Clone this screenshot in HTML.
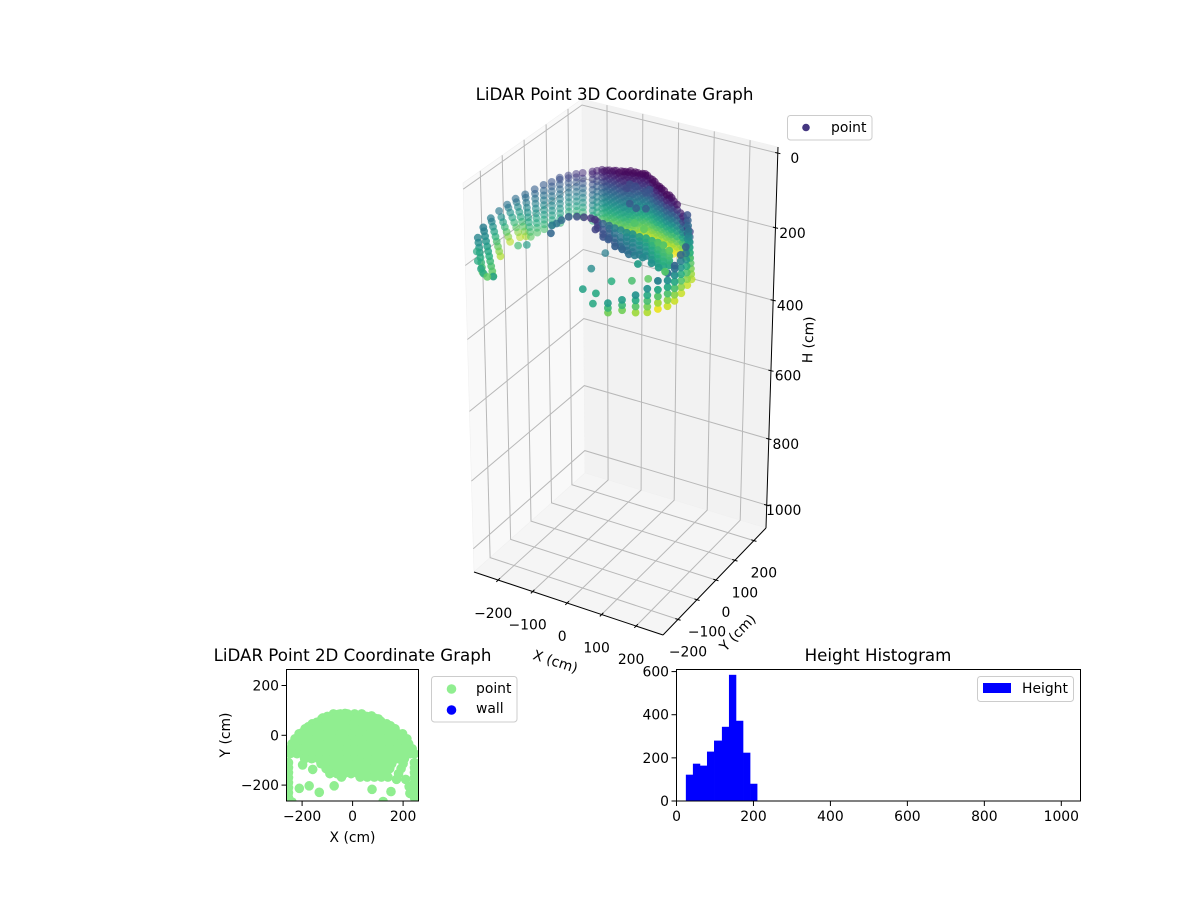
<!DOCTYPE html>
<html>
<head>
<meta charset="utf-8">
<title>LiDAR Point Graphs</title>
<style>
html,body{margin:0;padding:0;background:#fff;}
svg{display:block;}
text{font-family:"DejaVu Sans","Liberation Sans",sans-serif;font-size:13.9px;fill:#000;}
.title{font-size:16.67px;text-anchor:middle;}
.mid{text-anchor:middle;}
.end{text-anchor:end;}
</style>
</head>
<body>
<svg id="fig" xmlns="http://www.w3.org/2000/svg" width="1200" height="900" viewBox="0 0 1200 900">
  <defs>
    <clipPath id="clip2d"><rect x="286.5" y="669.5" width="132" height="131.5"/></clipPath>
  </defs>
  <rect x="0" y="0" width="1200" height="900" fill="#fff"/>
  <g id="g3d"></g>
  <g id="g2d"></g>
  <g id="ghist"></g>
  <text class="title" x="614.5" y="100">LiDAR Point 3D Coordinate Graph</text>
  <text class="title" x="352.5" y="661">LiDAR Point 2D Coordinate Graph</text>
  <text class="title" x="878" y="661">Height Histogram</text>

  <g>
    <rect x="787.5" y="115.5" width="84.5" height="24.5" rx="3" fill="#fff" stroke="#ccc"/>
    <circle cx="806" cy="127.5" r="3.8" fill="#453781"/>
    <text x="831" y="131.8">point</text>
  </g>
  <g>
    <rect x="431.5" y="676.5" width="85.5" height="45.5" rx="3" fill="#fff" stroke="#ccc"/>
    <circle cx="451.5" cy="689" r="4.8" fill="#90ee90"/>
    <text x="476" y="693">point</text>
    <circle cx="451.5" cy="710" r="4.8" fill="#0000ff"/>
    <text x="476" y="713">wall</text>
  </g>
  <g>
    <rect x="977.5" y="676.5" width="96" height="25" rx="3" fill="#fff" stroke="#ccc"/>
    <rect x="983" y="683" width="28" height="10" fill="#0000ff"/>
    <text x="1022" y="693">Height</text>
  </g>
</svg>
<script>
/* ---------- 3D scatter data: each column is one LiDAR sweep at a fixed plan position ---------- */
var columnX = [
 -222,-190,-229,-249,-241,-231,-220,-218,-213,-208,-197,-197,-183,-166,
 -135,-135,-121,-101,-87,-71,-54,-35,-24,-11,10,23,40,59,73,89,107,123,141,156,168,
 -111,-94,-79,-62,-44,-29,-17,0,16,31,50,66,81,98,115,132,148,162,
 2,29,52,76,99,121,137,158,175,197,219,237,247,
 227,233,241,246,245,232,185,161,127,104,
 -17,-5,31,69,70,111,140,50,-201,-217,-285,-257,-229,-211,-184,-195,
 -53,-52,-46,-30,-14,3,15,42,-38,-57,78,95,127,149,135,179,150,172,205,231,255,
 -10,8,48,46,43,69,90,-5,105,141
];
var columnY = [
 -280,-284,-185,-107,-74,-63,-59,-32,-8,21,40,80,93,95,
 89,110,110,99,99,93,88,77,81,81,70,70,64,54,53,48,42,36,38,38,37,
 105,99,96,90,82,79,81,75,70,67,59,53,50,45,39,37,38,37,
 -117,-138,-148,-163,-174,-184,-183,-187,-185,-195,-205,-210,-199,
 -55,-86,-129,-171,-203,-227,-196,-211,-217,-245,
 -50,-137,-239,-242,-169,-142,-114,-224,-109,-123,-201,-243,-275,-293,-294,-303,
 -216,-194,-171,-160,-154,-150,-152,-196,-268,-231,-221,-226,-249,-254,-198,-231,-196,-196,-211,-222,-233,
 54,50,33,52,-36,-50,-40,30,-120,-136
];
var columnLean = [
 4,9,9,10.6,12.6,10,5,2,0,0,0,0,0,0,
 0,0,0,0,0,0,0,0,0,0,0,0,0,0,0,0,0,0,0,0,0,
 0,0,0,0,0,0,0,0,0,0,0,0,0,0,0,0,0,0,
 0,0,0,0,0,0,0,0,0,0,0,0,0,
 5,2,1,0,0,0,0,0,0,0,
 0,0,0,0,0,0,0,0,0,0,0,0,0,0,0,0,
 0,0,0,0,0,0,0,0,0,0,0,0,0,0,0,0,0,0,0,0,0,
 0,0,0,0,0,0,0,0,0,0
];
var columnHeights = [
 [205,192,179,166,153,140,127,114],
 [205,192,179,166,153,140,127,114,101,88,78],
 [205,192,179,166,153,140,127,114,105],
 [205,192,179,166,153,140,124],
 [205,192,179,166,153,140,127,119],
 [205,192,179,166,153,140,127,114,105],
 [205,192,179,166,153,140,127,114,101,92],
 [205,192,179,166,153,140,127,114,101,89],
 [205,192,179,166,153,140,127,114,101,86],
 [205,192,179,166,153,140,127,114,101,89],
 [205,192,179,166,153,140,127,114,101,88,83],
 [205,192,179,166,153,140,127,114,101,94],
 [205,192,179,166,153,140,127,114,101,92],
 [205,192,179,166,153,140,127,114,101,86],
 [205,191,177,163,149,135,121,107,93,79,72],
 [205,191,177,163,149,135,121,107,93,79],
 [205,191,177,163,149,135,121,107,93,79,73],
 [205,191,177,163,149,135,121,107,93,79,65],
 [205,191,177,163,149,135,121,107,93,79,65],
 [205,191,177,163,149,135,121,107,93,79,65,56],
 [205,191,177,163,149,135,121,107,93,79,65,51],
 [205,191,177,163,149,135,121,107,93,79,65,51,43],
 [205,191,177,163,149,135,121,107,93,79,65,51,40],
 [205,191,177,163,149,135,121,107,93,79,65,51,40],
 [205,191,177,163,149,135,121,107,93,79,65,51,37],
 [205,191,177,163,149,135,121,107,93,79,65,51,37,32],
 [205,191,177,163,149,135,121,107,93,79,65,51,37],
 [205,191,177,163,149,135,121,107,93,79,65,51,37],
 [205,191,177,163,149,135,121,107,93,79,65,51,46],
 [205,191,177,163,149,135,121,107,93,79,65,51],
 [205,191,177,163,149,135,121,107,93,79,65,56],
 [205,191,177,163,149,135,121,107,93,79,65],
 [205,191,177,163,149,135,121,107,93],
 [205,191,177,163,149,135,121,110],
 [205,191,177,163,149,135],
 [198,184,170,156,142,128,114,100,86,72],
 [198,184,170,156,142,128,114,100,86,72,63],
 [198,184,170,156,142,128,114,100,86,72,59],
 [198,184,170,156,142,128,114,100,86,72,58],
 [198,184,170,156,142,128,114,100,86,72,58,47],
 [198,184,170,156,142,128,114,100,86,72,58,44],
 [198,184,170,156,142,128,114,100,86,72,58,44],
 [198,184,170,156,142,128,114,100,86,72,58,44,37],
 [198,184,170,156,142,128,114,100,86,72,58,44,33],
 [198,184,170,156,142,128,114,100,86,72,58,44,33],
 [198,184,170,156,142,128,114,100,86,72,58,44,36],
 [198,184,170,156,142,128,114,100,86,72,58,44],
 [198,184,170,156,142,128,114,100,86,72,58,48],
 [198,184,170,156,142,128,114,100,86,72,58],
 [198,184,170,156,142,128,114,100,86,72,59],
 [198,184,170,156,142,128,114,100,86,72],
 [198,184,170,156,142,128,114,100],
 [198,184,170,156,142,128],
 [100,92,84],
 [100,88,73],
 [100,88,76,68],
 [100,88,75,62],
 [100,88,75,57],
 [100,88,76,65,54],
 [100,88,76,65,54],
 [100,88,76,65,54],
 [100,88,76,65,54],
 [100,88,76,64,51],
 [100,88,76,64,46],
 [100,88,76,64,46],
 [100,88,76,62],
 [205,191,177,163,149,135,121,107,93,79,65,51,37],
 [205,189,172,155,138,121,105],
 [205,189,172,155,138,121,105],
 [205,189,172,155,138,121,113],
 [205,189,172,155,138,119],
 [205,189,172,155,132],
 [240,225,210,195,178],
 [240,224,208,194],
 [240,227,213],
 [240,228,215],
 [200],[200],[200],[200],[200],[200],[200],[240],[200],[200],[200],[200],[200],[200],[200],[200],
 [60],[60],[60],[60],[60],[60],[60],[60],[60],[60],[60],[60],[60],[60],[100],[100],[100],[100],[100],[100],[100],
 [60],[60],[60],[60],[60],[60],[60],[60],[60],[60]
];
var columnToneTop = [
 .45,.42,.42,.40,.38,.36,.34,.30,.28,.26,.24,.20,.17,.14,
 .12,.10,.08,.06,.05,.04,.03,.02,.02,.02,.02,.02,.02,.02,.02,.02,.03,.05,.10,.14,.20,
 .07,.05,.04,.03,.02,.02,.02,.02,.02,.02,.02,.02,.02,.02,.04,.07,.12,.17,
 .20,.30,.35,.42,.45,.48,.50,.55,.60,.65,.70,.72,.75,
 .25,.30,.33,.33,.37,.43,.50,.50,.55,.55,
 .42,.47,.57,.60,.63,.70,.75,.60,.55,.68,.60,.60,.58,.60,.55,.75,
 .38,.33,.27,.22,.18,.15,.15,.20,.33,.40,.25,.28,.30,.33,.36,.55,.42,.46,.50,.55,.72,
 .24,.24,.26,.26,.26,.28,.28,.22,.72,.75
];
var columnToneBottom = [
 .75,.78,.88,.90,.90,.88,.75,.72,.70,.65,.65,.68,.70,.72,
 .65,.68,.70,.72,.74,.76,.78,.80,.82,.86,.90,.93,.96,.98,.98,.98,.98,.98,.96,.92,.85,
 .71,.73,.75,.77,.79,.81,.84,.88,.92,.95,.97,.98,.98,.98,.98,.97,.94,.88,
 .18,.22,.26,.28,.32,.35,.38,.40,.45,.50,.55,.60,.60,
 .90,.92,.92,.92,.92,.97,.88,.85,.78,.78,
 .42,.47,.57,.60,.63,.70,.75,.60,.55,.68,.60,.60,.58,.60,.55,.75,
 .38,.33,.27,.22,.18,.15,.15,.20,.33,.40,.25,.28,.30,.33,.36,.55,.42,.46,.50,.55,.72,
 .24,.24,.26,.26,.26,.28,.28,.22,.72,.75
];
var xTicks3d = [-200,-100,0,100,200];
var yTicks3d = [-200,-100,0,100,200];
var zTicks3d = [0,200,400,600,800,1000];

/* ---------- 2D scatter data ---------- */
var planRowY = [86,66,46,26,6,-14,-34,-54,-74,-94,-114,-134,-154,-168];
var planRowX = [
 [-76,-48,-20,8,36],
 [-122,-94,-66,-38,-10,18,46,74,102],
 [-160,-132,-104,-76,-48,-20,8,36,64,92,120,135],
 [-188,-160,-132,-104,-76,-48,-20,8,36,64,92,120,148,168],
 [-212,-184,-156,-128,-100,-72,-44,-16,12,40,68,96,124,152,180,198],
 [-228,-200,-172,-144,-116,-88,-60,-32,-4,24,52,80,108,136,164,192,215],
 [-240,-212,-184,-156,-128,-100,-72,-44,-16,12,40,68,96,124,152,180,208,222],
 [-246,-218,-190,-162,-134,-106,-78,-50,-22,6,34,62,90,118,146,174,202,236],
 [-248,-220,-192,-164,-136,-108,-80,-52,-24,4,32,60,88,116,144,172,200,228,245],
 [-190,-162,-134,-106,-78,-50,-22,6,34,62,90,118,146,174,205],
 [-125,-97,-69,-41,-13,15,43,71,99,127,155,200],
 [-105,-77,-49,-21,7,35,63,91,119,147,192],
 [-90,-62,-34,-6,22,50,78,106,134,182],
 [-44,30,58,86,114,140]
];
var scatteredX = [-198,-158,-211,-172,-132,-73,77,152,121,174,210,227,224,
 -254,-254,-254,-254,-254,-254,-254,-254,-240,
 245,245,245,245,245,250,250,245,
 -100,-118,-142,-176,-200,-222,-237,90,112,150,165,185,205,222,75,-57,-30,55];
var scatteredY = [-119,-137,-213,-203,-229,-203,-217,-226,-266,-177,-177,-233,-206,
 -110,-130,-150,-170,-190,-210,-230,-250,-268,
 -110,-130,-150,-170,-190,-210,-235,-250,
 76,70,52,34,10,-18,-40,68,56,38,26,2,-22,-50,78,84,88,76];
var xTicks2d = [-200,0,200];
var yTicks2d = [-200,0,200];

/* ---------- histogram data ---------- */
var histBinEdges = [24.3,42.6,60.9,79.2,97.5,118,136.3,154.6,172.9,191.2,209.5];
var histCounts = [122,173,164,229,280,344,585,372,224,80];
var histXTicks = [0,200,400,600,800,1000];
var histYTicks = [0,200,400,600];

var NS = 'http://www.w3.org/2000/svg';
function mk(tag, attrs, parent, content){
  var el = document.createElementNS(NS, tag);
  for (var k in attrs) el.setAttribute(k, attrs[k]);
  if (content !== undefined) el.textContent = content;
  parent.appendChild(el);
  return el;
}
function fmt(v){ return String(v).replace('-', '\u2212'); }

/* ---------- 3D projection ---------- */
var cornerTop = {L:[463,183], F:[664,236], R:[778,147], B:[582,99]};
var cornerBot = {L:[474,572], F:[663,635], R:[766,528], B:[585,473]};
function box(u,v,w){
  function mix(c){
    var p0 = cornerTop[c], p1 = cornerBot[c];
    return [p0[0]+(p1[0]-p0[0])*w, p0[1]+(p1[1]-p0[1])*w];
  }
  var L=mix('L'),F=mix('F'),R=mix('R'),B=mix('B');
  var fx=L[0]+(F[0]-L[0])*u, fy=L[1]+(F[1]-L[1])*u;
  var bx=B[0]+(R[0]-B[0])*u, by=B[1]+(R[1]-B[1])*u;
  return [fx+(bx-fx)*v, fy+(by-fy)*v];
}
function uOf(x){ return (x+270)/548; }
function vOf(y){ return (y+279)/543; }
function wOf(h){ var s=h/1000; return 0.016+0.924*s+0.07*s*(1-s); }
function project(x,y,h){ return box(uOf(x),vOf(y),wOf(h)); }

var viridisStops = ['#440154','#482878','#3b528b','#2c728e','#21918c','#28ae80','#5ec962','#addc30','#fde725'];
function hexToRgb(c){ return [parseInt(c.substr(1,2),16),parseInt(c.substr(3,2),16),parseInt(c.substr(5,2),16)]; }
function viridis(t){
  t=Math.max(0,Math.min(1,t));
  var p=t*(viridisStops.length-1), i=Math.min(Math.floor(p),viridisStops.length-2), f=p-i;
  var a=hexToRgb(viridisStops[i]), b=hexToRgb(viridisStops[i+1]);
  return 'rgb('+Math.round(a[0]+(b[0]-a[0])*f)+','+Math.round(a[1]+(b[1]-a[1])*f)+','+Math.round(a[2]+(b[2]-a[2])*f)+')';
}
function pts(list){ return list.map(function(p){return p[0].toFixed(1)+','+p[1].toFixed(1);}).join(' '); }

var g3 = document.getElementById('g3d');
var paneDefs = [
  ['pane-left', [[0,0,0],[0,1,0],[0,1,1],[0,0,1]], '#f9f9f9'],
  ['pane-back', [[0,1,0],[1,1,0],[1,1,1],[0,1,1]], '#f2f2f2'],
  ['pane-floor',[[0,0,1],[1,0,1],[1,1,1],[0,1,1]], '#f5f5f5']
];
paneDefs.forEach(function(d){
  var el = mk('polygon',{points:pts(d[1].map(function(c){return box(c[0],c[1],c[2]);})),fill:d[2],stroke:'#f0f0f0','stroke-width':0.6},g3);
  
  
});
var gridStyle = {fill:'none',stroke:'#b8b8b8','stroke-width':1};
function gridLine(list,name){
  var el = mk('polyline',Object.assign({points:pts(list)},gridStyle),g3);
  
  
}
xTicks3d.forEach(function(t){
  var u=uOf(t);
  gridLine([box(u,0,1),box(u,1,1),box(u,1,0)],'x-gridline');
});
yTicks3d.forEach(function(t){
  var v=vOf(t);
  gridLine([box(1,v,1),box(0,v,1),box(0,v,0)],'y-gridline');
});
zTicks3d.forEach(function(t){
  var w=wOf(t);
  gridLine([box(0,0,w),box(0,1,w),box(1,1,w)],'z-gridline');
});
[[[0,0,1],[1,0,1]],[[1,0,1],[1,1,1]],[[1,1,1],[1,1,0]]].forEach(function(seg){
  var a=box.apply(null,seg[0]), b=box.apply(null,seg[1]);
  var el = mk('line',{x1:a[0],y1:a[1],x2:b[0],y2:b[1],stroke:'#000','stroke-width':1},g3);
  
  
});
function tickMark(p,dx,dy,name){
  var el = mk('line',{x1:p[0]-dx,y1:p[1]-dy,x2:p[0]+dx,y2:p[1]+dy,stroke:'#000','stroke-width':1},g3);
  
  
}
xTicks3d.forEach(function(t){
  var p=box(uOf(t),0,1);
  tickMark(p,1.8,-1.8,'x-tick-3d');
  var el = mk('text',{x:p[0]-5,y:p[1]+38,'class':'mid'},g3,fmt(t));
  
  
});
yTicks3d.forEach(function(t){
  var p=box(1,vOf(t),1);
  tickMark(p,2.6,0.8,'y-tick-3d');
  var el = mk('text',{x:p[0]+10,y:p[1]+37,'class':'mid'},g3,fmt(t));
  
  
});
zTicks3d.forEach(function(t){
  var p=box(1,1,wOf(t));
  tickMark(p,2.6,0.6,'z-tick-3d');
  var el = mk('text',{x:p[0]+17,y:p[1]+10,'class':'mid'},g3,fmt(t));
  
  
});
var xl = mk('text',{x:0,y:0,'class':'mid',transform:'translate(554,666) rotate(18)'},g3,'X (cm)');


var yl = mk('text',{x:0,y:0,'class':'mid',transform:'translate(741,636) rotate(-46)'},g3,'Y (cm)');


var zl = mk('text',{x:0,y:0,'class':'mid',transform:'translate(813,340) rotate(-88)'},g3,'H (cm)');



columnX.forEach(function(cx,i){
  var cy=columnY[i], hs=columnHeights[i];
  var hi=Math.max.apply(null,hs), lo=Math.min.apply(null,hs);
  var near=(cx*0.5-cy*0.866+362)/724;
  var alpha=Math.max(0.35,Math.min(1,0.35+0.65*near));
  hs.forEach(function(h){
    var f=hi>lo?(h-lo)/(hi-lo):0;
    var lean=columnLean[i]*(1-f);
    var p=project(cx-2.1*lean,cy-0.99*lean,h);
    var tone=columnToneTop[i]+(columnToneBottom[i]-columnToneTop[i])*f;
    var dot=mk('circle',{cx:p[0].toFixed(1),cy:p[1].toFixed(1),r:3.9,fill:viridis(tone),'fill-opacity':alpha.toFixed(2)},g3);
    
    
  });
});

/* ---------- 2D scatter ---------- */
var g2 = document.getElementById('g2d');
function sx2(x){ return 352.6+x*0.2525; }
function sy2(y){ return 735.3-y*0.249; }
var clipG = mk('g',{'clip-path':'url(#clip2d)'},g2);


planRowY.forEach(function(y,i){
  planRowX[i].forEach(function(x){
    var d=mk('circle',{cx:sx2(x),cy:sy2(y),r:4.8,fill:'#90ee90'},clipG);
    
    
  });
});
scatteredX.forEach(function(x,i){
  var d=mk('circle',{cx:sx2(x),cy:sy2(scatteredY[i]),r:4.8,fill:'#90ee90'},clipG);
  
  
});
var frame2 = mk('rect',{x:286.5,y:669.5,width:132,height:131.5,fill:'none',stroke:'#000','stroke-width':1},g2);


xTicks2d.forEach(function(t){
  var x=sx2(t);
  var m=mk('line',{x1:x,y1:801,x2:x,y2:806,stroke:'#000','stroke-width':1},g2);
  
  
  var l=mk('text',{x:x,y:821,'class':'mid'},g2,fmt(t));
  
  
});
yTicks2d.forEach(function(t){
  var y=sy2(t);
  var m=mk('line',{x1:281.5,y1:y,x2:286.5,y2:y,stroke:'#000','stroke-width':1},g2);
  
  
  var l=mk('text',{x:279,y:y+5,'class':'end'},g2,fmt(t));
  
  
});
var xl2=mk('text',{x:352.5,y:842,'class':'mid'},g2,'X (cm)');


var yl2=mk('text',{x:0,y:0,'class':'mid',transform:'translate(230,735) rotate(-90)'},g2,'Y (cm)');



/* ---------- histogram ---------- */
var gh = document.getElementById('ghist');
function sxH(v){ return 676.5+v*0.3848; }
function syH(v){ return 801-v*0.2157; }
histCounts.forEach(function(c,i){
  var x0=sxH(histBinEdges[i]), x1=sxH(histBinEdges[i+1]);
  var b=mk('rect',{x:x0,y:syH(c),width:x1-x0+0.3,height:801-syH(c),fill:'#0000ff'},gh);
  
  
});
var frameH=mk('rect',{x:676.5,y:669.5,width:404,height:131.5,fill:'none',stroke:'#000','stroke-width':1},gh);


histXTicks.forEach(function(t){
  var x=sxH(t);
  var m=mk('line',{x1:x,y1:801,x2:x,y2:806,stroke:'#000','stroke-width':1},gh);
  
  
  var l=mk('text',{x:x,y:821,'class':'mid'},gh,fmt(t));
  
  
});
histYTicks.forEach(function(t){
  var y=syH(t);
  var m=mk('line',{x1:671.5,y1:y,x2:676.5,y2:y,stroke:'#000','stroke-width':1},gh);
  
  
  var l=mk('text',{x:669,y:y+5,'class':'end'},gh,fmt(t));
  
  
});
</script>
</body>
</html>
